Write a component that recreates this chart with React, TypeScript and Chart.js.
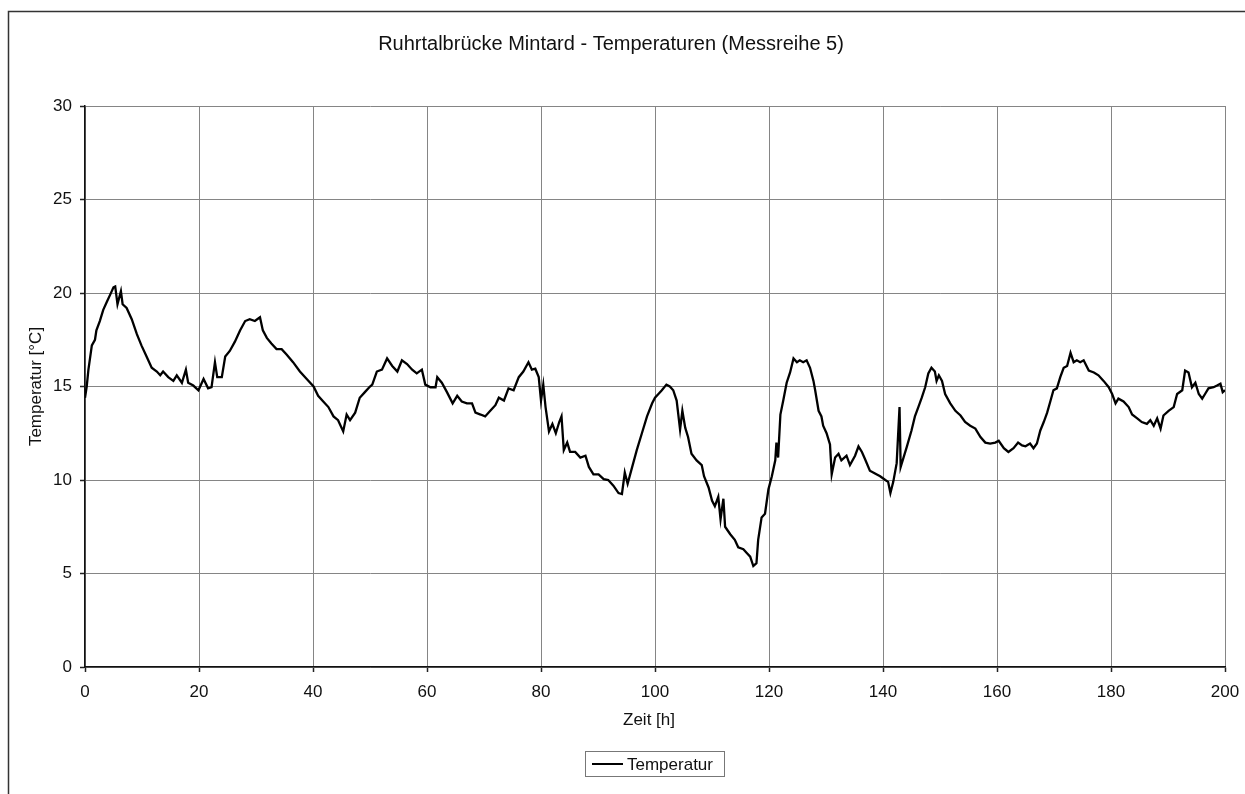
import React, { useEffect, useRef } from "react";
import { Chart, registerables } from "chart.js";

Chart.register(...registerables);

// Measurement time in hours
const hours: number[] = [
  0, 0.3, 0.6, 1.2, 1.75, 2.0, 2.6, 3.2, 3.8, 4.4, 5.0, 5.3, 5.7, 6.3, 6.6, 7.3, 8.2, 9.1, 9.9, 10.8,
  11.7, 12.6, 13.2, 13.7, 14.6, 15.5, 16.1, 17.0, 17.7, 18.1, 19.0, 19.9, 20.8, 21.6, 22.2, 22.8, 23.2, 24.0, 24.6, 25.4,
  26.3, 27.2, 28.1, 28.9, 29.8, 30.7, 31.2, 31.9, 32.7, 33.6, 34.5, 35.4, 36.5, 37.7, 38.9, 40.1, 40.9, 41.8, 42.7, 43.6,
  44.4, 45.3, 45.9, 46.5, 47.4, 48.2, 49.1, 50.0, 50.4, 51.2, 52.1, 53.0, 53.9, 54.8, 55.6, 56.5, 57.4, 58.2, 59.1, 59.7,
  60.6, 61.5, 61.8, 62.6, 63.5, 64.5, 65.3, 66.1, 67.0, 67.9, 68.5, 69.4, 70.2, 71.1, 72.0, 72.6, 73.5, 74.3, 75.2, 76.1,
  76.9, 77.8, 78.4, 79.0, 79.6, 80.0, 80.4, 80.8, 81.4, 82.0, 82.6, 83.2, 83.6, 84.0, 84.6, 85.1, 86.0, 86.9, 87.8, 88.4,
  89.2, 90.1, 91.0, 91.8, 92.7, 93.6, 94.2, 94.7, 95.2, 96.0, 96.8, 97.7, 98.6, 99.5, 100.0, 100.6, 101.2, 102.0, 102.6, 103.2,
  103.8, 104.4, 104.8, 105.3, 105.8, 106.4, 107.3, 108.2, 108.6, 109.4, 110.0, 110.5, 111.1, 111.5, 112.0, 112.3, 113.2, 114.0, 114.6, 115.5,
  116.1, 116.7, 117.25, 117.8, 118.1, 118.7, 119.3, 119.9, 120.5, 121.1, 121.3, 121.6, 122.0, 122.5, 123.1, 123.7, 124.3, 124.9, 125.4, 126.0,
  126.6, 127.2, 127.8, 128.1, 128.7, 129.2, 129.5, 130.1, 130.7, 131.0, 131.6, 132.2, 132.7, 133.6, 134.2, 135.1, 135.7, 136.3, 136.8, 137.7,
  138.6, 139.5, 140.4, 140.9, 141.3, 141.8, 142.4, 142.9, 143.1, 143.6, 144.2, 145.0, 145.6, 146.2, 146.8, 147.4, 147.95, 148.5, 149.1, 149.4,
  149.8, 150.35, 150.9, 151.8, 152.7, 153.6, 154.4, 155.3, 156.2, 157.1, 157.95, 158.8, 159.7, 160.3, 161.2, 162.0, 162.9, 163.7, 164.4, 165.0,
  165.8, 166.4, 167.0, 167.6, 168.2, 168.8, 169.4, 169.9, 170.5, 171.1, 171.7, 172.3, 172.9, 173.45, 174.0, 174.6, 175.2, 176.1, 177.0, 177.8,
  178.7, 179.6, 180.2, 180.8, 181.3, 182.2, 183.1, 183.7, 184.6, 185.4, 186.3, 186.9, 187.5, 188.1, 188.7, 189.2, 190.1, 191.0, 191.6, 192.5,
  193.0, 193.6, 194.2, 194.8, 195.4, 196.0, 196.5, 197.1, 198.0, 198.6, 199.2, 199.6, 200.0,
];

// Temperature in °C at each time
const temperatures: number[] = [
  14.4, 15.0, 15.9, 17.2, 17.5, 18.0, 18.5, 19.1, 19.5, 19.9, 20.3, 20.35, 19.4, 20.1, 19.4, 19.2, 18.6, 17.8, 17.2, 16.6,
  16.0, 15.8, 15.6, 15.8, 15.5, 15.3, 15.6, 15.2, 15.9, 15.2, 15.05, 14.8, 15.4, 14.9, 14.96, 16.3, 15.5, 15.5, 16.6, 16.9,
  17.4, 18.0, 18.5, 18.6, 18.5, 18.7, 18.0, 17.6, 17.3, 17.0, 17.0, 16.7, 16.3, 15.8, 15.4, 15.0, 14.5, 14.2, 13.9, 13.4,
  13.2, 12.6, 13.5, 13.2, 13.6, 14.4, 14.7, 15.0, 15.1, 15.8, 15.9, 16.5, 16.1, 15.8, 16.4, 16.2, 15.9, 15.7, 15.9, 15.1,
  14.96, 14.96, 15.5, 15.2, 14.7, 14.1, 14.5, 14.2, 14.1, 14.1, 13.6, 13.5, 13.4, 13.7, 14.0, 14.4, 14.25, 14.9, 14.8, 15.5,
  15.8, 16.3, 15.9, 15.95, 15.5, 14.25, 15.1, 13.9, 12.6, 13.0, 12.5, 13.1, 13.4, 11.6, 12.0, 11.5, 11.5, 11.2, 11.3, 10.7,
  10.3, 10.3, 10.05, 10.0, 9.7, 9.3, 9.25, 10.4, 9.8, 10.7, 11.6, 12.5, 13.4, 14.1, 14.4, 14.6, 14.8, 15.1, 15.0, 14.8,
  14.25, 12.7, 13.7, 12.8, 12.3, 11.4, 11.05, 10.8, 10.2, 9.6, 8.9, 8.6, 9.1, 7.9, 9.0, 7.5, 7.1, 6.8, 6.4, 6.3,
  6.1, 5.9, 5.4, 5.55, 6.8, 8.0, 8.2, 9.5, 10.2, 11.05, 12.0, 11.2, 13.5, 14.25, 15.2, 15.75, 16.5, 16.3, 16.4, 16.3,
  16.4, 16.0, 15.3, 14.8, 13.7, 13.4, 12.9, 12.5, 11.9, 10.3, 11.2, 11.4, 11.05, 11.3, 10.8, 11.3, 11.8, 11.5, 11.15, 10.5,
  10.35, 10.2, 10.0, 9.9, 9.3, 9.9, 10.9, 13.9, 10.7, 11.2, 11.8, 12.65, 13.4, 13.9, 14.4, 14.96, 15.7, 16.0, 15.8, 15.3,
  15.6, 15.3, 14.6, 14.1, 13.7, 13.45, 13.1, 12.9, 12.75, 12.3, 12.0, 11.95, 12.0, 12.1, 11.7, 11.5, 11.7, 12.0, 11.85, 11.8,
  11.95, 11.7, 11.95, 12.65, 13.1, 13.6, 14.25, 14.8, 14.9, 15.5, 16.0, 16.1, 16.8, 16.3, 16.4, 16.3, 16.4, 15.85, 15.75, 15.6,
  15.3, 14.96, 14.6, 14.1, 14.35, 14.2, 13.9, 13.5, 13.3, 13.1, 13.0, 13.2, 12.9, 13.3, 12.75, 13.45, 13.7, 13.9, 14.6, 14.8,
  15.85, 15.75, 14.96, 15.2, 14.6, 14.35, 14.6, 14.9, 14.96, 15.05, 15.15, 14.7, 14.8,
];

const xTicks: number[] = [0, 20, 40, 60, 80, 100, 120, 140, 160, 180, 200];
const yTicks: number[] = [0, 5, 10, 15, 20, 25, 30];

const chartTitle = "Ruhrtalbrücke Mintard - Temperaturen (Messreihe 5)";
const xAxisTitle = "Zeit [h]";
const yAxisTitle = "Temperatur [°C]";
const seriesName = "Temperatur";

const FONT = "'Liberation Sans', Arial, sans-serif";
const TEXT = "#111";

// Frame, title, axis titles and the boxed legend
const decorations = {
  id: "decorations",
  beforeDraw(chart: Chart) {
    const ctx = chart.ctx;
    ctx.save();
    ctx.fillStyle = "#fff";
    ctx.fillRect(0, 0, chart.width, chart.height);
    ctx.strokeStyle = "#333";
    ctx.lineWidth = 1.5;
    ctx.beginPath();
    ctx.moveTo(8.5, chart.height);
    ctx.lineTo(8.5, 11.5);
    ctx.lineTo(chart.width, 11.5);
    ctx.stroke();
    ctx.restore();
  },
  afterDraw(chart: Chart) {
    const ctx = chart.ctx;
    const area = chart.chartArea;
    ctx.save();
    ctx.fillStyle = TEXT;
    ctx.textBaseline = "middle";
    ctx.textAlign = "center";

    ctx.font = `20px ${FONT}`;
    ctx.fillText(chartTitle, 611, 44);

    ctx.font = `17px ${FONT}`;
    ctx.fillText(xAxisTitle, 649, 720);

    ctx.save();
    ctx.translate(36, (area.top + area.bottom) / 2);
    ctx.rotate(-Math.PI / 2);
    ctx.fillText(yAxisTitle, 0, 0);
    ctx.restore();

    // legend
    ctx.strokeStyle = "#777";
    ctx.lineWidth = 1;
    ctx.strokeRect(585.5, 751.5, 139, 25);
    ctx.strokeStyle = "#000";
    ctx.lineWidth = 2;
    ctx.beginPath();
    ctx.moveTo(592, 764);
    ctx.lineTo(623, 764);
    ctx.stroke();
    ctx.textAlign = "left";
    ctx.fillText(seriesName, 627, 765);
    ctx.restore();
  },
};

export default function App() {
  const canvasRef = useRef<HTMLCanvasElement | null>(null);

  useEffect(() => {
    const canvas = canvasRef.current;
    if (!canvas) return;
    const points = hours.map((h, i) => ({ x: h, y: temperatures[i] }));
    const chart = new Chart(canvas, {
      type: "line",
      data: {
        datasets: [
          {
            label: seriesName,
            data: points,
            borderColor: "#000",
            borderWidth: 2.3,
            pointRadius: 0,
            tension: 0,
            fill: false,
          },
        ],
      },
      options: {
        animation: false,
        responsive: false,
        devicePixelRatio: 1,
        layout: { padding: { left: 0, top: 106, right: 20, bottom: 87 } },
        plugins: {
          legend: { display: false },
          title: { display: false },
          tooltip: { enabled: false },
        },
        scales: {
          x: {
            type: "linear",
            min: 0,
            max: 200,
            afterFit: (scale: any) => {
              scale.height = 40;
              scale.paddingLeft = 0;
              scale.paddingRight = 0;
            },
            afterBuildTicks: (scale: any) => {
              scale.ticks = xTicks.map((v) => ({ value: v }));
            },
            ticks: {
              font: { family: FONT, size: 17 },
              color: TEXT,
              padding: 10,
              maxRotation: 0,
            },
            grid: {
              color: "#858585",
              lineWidth: 1,
              tickLength: 5,
              tickColor: "#222",
              tickWidth: 1.5,
            },
            border: { color: "#111", width: 1.5 },
          },
          y: {
            type: "linear",
            min: 0,
            max: 30,
            afterFit: (scale: any) => {
              scale.width = 85;
              scale.paddingTop = 0;
              scale.paddingBottom = 0;
            },
            afterBuildTicks: (scale: any) => {
              scale.ticks = yTicks.map((v) => ({ value: v }));
            },
            ticks: {
              font: { family: FONT, size: 17 },
              color: TEXT,
              padding: 8,
            },
            grid: {
              color: "#858585",
              lineWidth: 1,
              tickLength: 5,
              tickColor: "#222",
              tickWidth: 1.5,
            },
            border: { color: "#111", width: 1.5 },
          },
        },
      },
      plugins: [decorations],
    });
    return () => chart.destroy();
  }, []);

  return (
    <div style={{ position: "fixed", left: 0, top: 0, width: 1245, height: 794, background: "#fff" }}>
      <canvas ref={canvasRef} width={1245} height={794} style={{ display: "block" }} />
    </div>
  );
}
